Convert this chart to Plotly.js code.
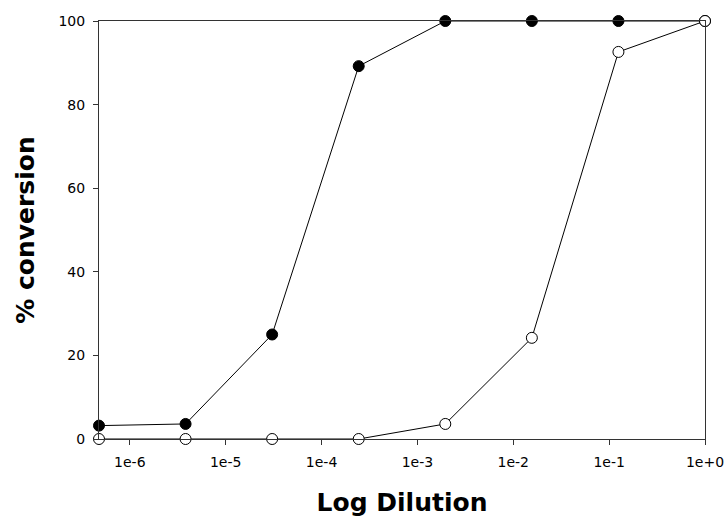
<!DOCTYPE html>
<html>
<head>
<meta charset="utf-8">
<script src="https://cdn.plot.ly/plotly-3.0.1.min.js"></script>
<style>
  html, body { margin: 0; padding: 0; background: #fff; }
  #chart { width: 727px; height: 521px; }
</style>
</head>
<body>
<div id="chart"></div>
<script>
// Eight-fold serial dilutions, 8^-7 ... 8^0
const dilution = [1/2097152, 1/262144, 1/32768, 1/4096, 1/512, 1/64, 1/8, 1];
// % conversion for the two samples
const filledSeries = [3.2, 3.6, 25.0, 89.2, 100, 100, 100, 100];
const openSeries   = [0, 0, 0, 0, 3.6, 24.2, 92.6, 100];
const xTickVals  = [1e-6, 1e-5, 1e-4, 1e-3, 1e-2, 1e-1, 1];
const xTickText  = ['1e-6', '1e-5', '1e-4', '1e-3', '1e-2', '1e-1', '1e+0'];
const yTickVals  = [0, 20, 40, 60, 80, 100];

const FONT = 'DejaVu Sans, Liberation Sans, Arial, sans-serif';
const line = { color: '#000', width: 1 };

const traces = [
  {
    x: dilution, y: filledSeries, type: 'scatter', mode: 'lines+markers',
    line: line, cliponaxis: false,
    marker: { size: 11, color: '#000', line: { color: '#000', width: 1 } },
    showlegend: false
  },
  {
    x: dilution, y: openSeries, type: 'scatter', mode: 'lines+markers',
    line: line, cliponaxis: false,
    marker: { size: 11, color: '#fff', line: { color: '#000', width: 1 } },
    showlegend: false
  }
];

const layout = {
  width: 727, height: 521,
  margin: { l: 99, r: 22, t: 21, b: 82 },
  paper_bgcolor: '#fff', plot_bgcolor: '#fff',
  font: { family: FONT, color: '#000', size: 14 },
  xaxis: {
    type: 'log',
    range: [-7 * Math.log10(8), 0],
    tickvals: xTickVals, ticktext: xTickText,
    ticks: 'outside', ticklen: 5, tickwidth: 1, tickcolor: '#333',
    showline: true, linecolor: '#333', linewidth: 1, mirror: true,
    showgrid: false, zeroline: false,
    tickfont: { size: 14 },
    ticklabelstandoff: 5,
    title: { text: 'Log Dilution', font: { size: 25, family: FONT, weight: 'bold' }, standoff: 24 }
  },
  yaxis: {
    range: [0, 100],
    tickvals: yTickVals,
    ticks: 'outside', ticklen: 5, tickwidth: 1, tickcolor: '#333',
    showline: true, linecolor: '#333', linewidth: 1, mirror: true,
    showgrid: false, zeroline: false,
    tickfont: { size: 14 },
    ticklabelstandoff: 5,
    title: { text: '% conversion', font: { size: 25, family: FONT, weight: 'bold' }, standoff: 16 }
  }
};

Plotly.newPlot('chart', traces, layout, { displayModeBar: false, staticPlot: true });
</script>
</body>
</html>
